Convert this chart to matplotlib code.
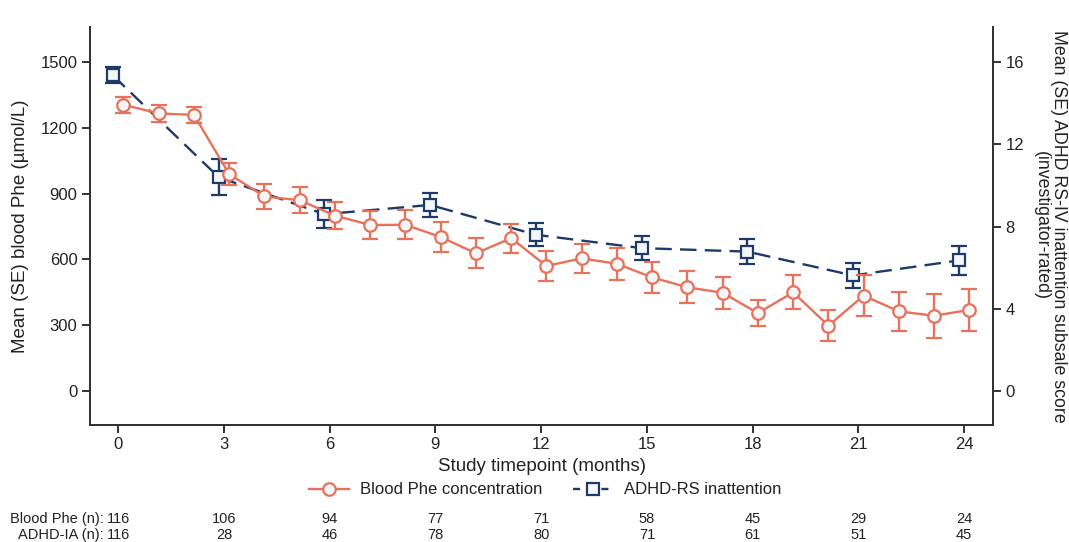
import matplotlib.pyplot as plt
import numpy as np
from matplotlib.lines import Line2D
from matplotlib.transforms import blended_transform_factory

plt.rcParams["font.family"] = ["Liberation Sans", "DejaVu Sans"]

# blood Phe, monthly visits (umol/L)
phe_month = list(range(0, 25))
phe_mean = [1305, 1266, 1259, 989, 887, 870, 800, 757, 758, 702, 628, 697, 570,
            605, 580, 518, 473, 448, 355, 450, 298, 435, 363, 343, 370]
phe_se = [38, 38, 38, 50, 59, 60, 60, 66, 66, 67, 68, 66, 68,
          66, 72, 71, 72, 72, 60, 78, 70, 95, 90, 100, 95]

# ADHD-RS inattention, quarterly visits
adhd_month = [0, 3, 6, 9, 12, 15, 18, 21, 24]
adhd_mean = [15.35, 10.4, 8.6, 9.05, 7.6, 6.95, 6.78, 5.62, 6.35]
adhd_se = [0.39, 0.89, 0.69, 0.58, 0.55, 0.6, 0.6, 0.6, 0.69]

# n at each timepoint
n_phe = [116, 106, 94, 77, 71, 58, 45, 29, 24]
n_adhd = [116, 28, 46, 78, 80, 71, 61, 51, 45]

orange = "#E8715A"
navy = "#1E3A68"
face = "#F3F7F7"
txt = "#222222"

fig = plt.figure(figsize=(10.69, 5.42), dpi=100)
ax = fig.add_axes([0.0842, 0.2159, 0.8447, 0.7343])
ax2 = ax.twinx()

off = 0.15
ylim = (-155, 1660)

ax2.errorbar(np.array(adhd_month) - off, adhd_mean, yerr=adhd_se,
             color=navy, lw=1.7, dashes=(7, 3.5), marker="s", ms=8,
             mfc=face, mec=navy, mew=1.6, capsize=6, capthick=1.7,
             elinewidth=1.7, zorder=2)
ax2.set_ylim(ylim[0] * 16 / 1500, ylim[1] * 16 / 1500)

ax.errorbar(np.array(phe_month) + off, phe_mean, yerr=phe_se,
            color=orange, lw=1.7, marker="o", ms=9, mfc=face, mec=orange,
            mew=1.6, capsize=6, capthick=1.7, elinewidth=1.7, zorder=3)

# put left axis (orange) above right axis
ax.set_zorder(ax2.get_zorder() + 1)
ax.patch.set_visible(False)

ax.set_xlim(-0.8, 24.82)
ax.set_ylim(*ylim)
ax.set_xticks(range(0, 25, 3))
ax.set_yticks(range(0, 1501, 300))
ax2.set_yticks(range(0, 17, 4))

for a in (ax, ax2):
    a.spines["top"].set_visible(False)
    for s in ("left", "right", "bottom"):
        a.spines[s].set_linewidth(1.4)
        a.spines[s].set_color("#333333")
    a.tick_params(direction="out", length=6, width=1.4, color="#333333",
                  labelsize=12, labelcolor=txt, pad=3)

ax.set_xlabel("Study timepoint (months)", fontsize=13.5, color=txt, labelpad=4)
ax.set_ylabel("Mean (SE) blood Phe (\u00b5mol/L)", fontsize=13.5, color=txt,
              labelpad=8)
ax2.set_ylabel("Mean (SE) ADHD RS-IV inattention subsale score\n(investigator-rated)",
               fontsize=12.8, color=txt, rotation=270, va="bottom",
               labelpad=6, linespacing=1.05)

handles = [
    Line2D([], [], color=orange, lw=1.7, marker="o", ms=9, mfc=face,
           mec=orange, mew=1.6),
    Line2D([], [], color=navy, lw=1.7, dashes=(3, 3), marker="s", ms=8,
           mfc=face, mec=navy, mew=1.6),
]
fig.legend(handles, ["Blood Phe concentration", "ADHD-RS inattention"],
           loc="center", bbox_to_anchor=(0.51, 0.096), ncol=2, frameon=False,
           fontsize=12, handlelength=2.4, columnspacing=1.8,
           handletextpad=0.7, labelcolor=txt)

tr = blended_transform_factory(ax.transData, fig.transFigure)
rows = [("Blood Phe (n):", n_phe, 0.043), ("ADHD-IA (n):", n_adhd, 0.013)]
for label, counts, yy in rows:
    ax.text(-0.42, yy, label, transform=tr, ha="right", va="center",
            fontsize=10.5, color=txt)
    for m, n in zip(adhd_month, counts):
        ax.text(m, yy, str(n), transform=tr, ha="center", va="center",
                fontsize=10.5, color=txt)

fig.savefig("out.png", dpi=100)
